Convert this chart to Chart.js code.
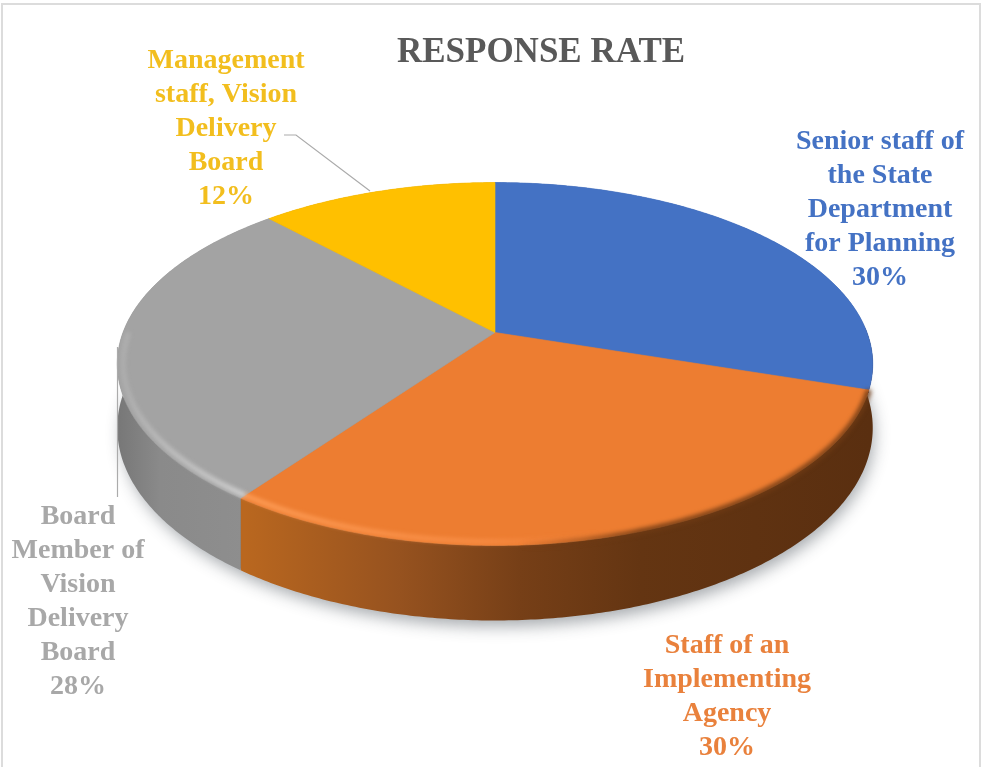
<!DOCTYPE html>
<html>
<head>
<meta charset="utf-8">
<title>Response Rate</title>
<script src="https://cdn.jsdelivr.net/npm/chart.js@4"></script>
<style>
  html, body { margin: 0; padding: 0; background: #fff; }
  #frame { position: absolute; left: 1px; top: 3px; width: 980px; height: 770px; border: 2px solid #dcdcdc; border-bottom: none; box-sizing: border-box; }
  #pie { position: absolute; left: 0; top: 0; }
  body { width: 985px; height: 767px; overflow: hidden; position: relative; }
</style>
</head>
<body>
<div id="frame"></div>
<canvas id="pie" width="985" height="767"></canvas>
<script>
// Survey figures
const chartTitle = 'RESPONSE RATE';
const categories = [
  'Senior staff of the State Department for Planning',
  'Staff of an Implementing Agency',
  'Board Member of Vision Delivery Board',
  'Management staff, Vision Delivery Board'
];
const responseShare = [30, 30, 28, 12];
const sliceColors = ['#4472C4', '#ED7D31', '#A3A3A3', '#FFC000'];

// Wrapped callout text for each slice
const calloutLines = [
  ['Senior staff of', 'the State', 'Department', 'for Planning'],
  ['Staff of an', 'Implementing', 'Agency'],
  ['Board', 'Member of', 'Vision', 'Delivery', 'Board'],
  ['Management', 'staff, Vision', 'Delivery', 'Board']
];
const calloutCenters = [[880, 142], [727, 646], [78, 517], [226, 61]];
const calloutColors = ['#4472C4', '#E9813C', '#A8A8A8', '#F2BE1E'];
const calloutLineStep = 34;

// Tilted-disc projection: near side of the disc is drawn larger
const DISC = { rx: 372, ry: 176, tilt: 0.1736, depth: 62 };

function project(cx, cy, angle, inset = 1, drop = 0) {
  const u = Math.cos(angle) * inset, v = Math.sin(angle) * inset;
  const w = 1 - DISC.tilt * v;
  return [cx + DISC.rx * u / w, cy + DISC.ry * v / w + drop * DISC.depth / w];
}

function traceRim(ctx, cx, cy, from, to, inset, drop, moveFirst) {
  const steps = Math.max(2, Math.ceil(Math.abs(to - from) / 0.01));
  for (let i = 0; i <= steps; i++) {
    const [x, y] = project(cx, cy, from + (to - from) * i / steps, inset, drop);
    if (i === 0 && moveFirst) ctx.moveTo(x, y); else ctx.lineTo(x, y);
  }
}

function sideGradient(ctx, index) {
  const stops = [
    [[840, '#2f5597'], [880, '#1f3a68']],
    [[245, '#B9671F'], [400, '#96521F'], [520, '#763F17'], [640, '#643512'], [870, '#5A2F10']],
    [[115, '#767676'], [160, '#8A8A8A'], [245, '#8E8E8E']],
    [[260, '#B88A00'], [500, '#B88A00']]
  ][index];
  const x0 = stops[0][0], x1 = stops[stops.length - 1][0];
  const g = ctx.createLinearGradient(x0, 0, x1, 0);
  stops.forEach(([x, c]) => g.addColorStop((x - x0) / (x1 - x0), c));
  return g;
}

const tiltedPie = {
  id: 'tiltedPie',
  afterLayout(chart) {
    // Title sits right of the page centre
    chart.titleBlock.left += 92;
  },
  beforeDatasetsDraw(chart) {
    const ctx = chart.ctx;
    const arcs = chart.getDatasetMeta(0).data;
    const cx = arcs[0].x, cy = arcs[0].y;

    // Soft contact shadow under the disc
    ctx.save();
    ctx.shadowColor = 'rgba(40,50,60,0.42)';
    ctx.shadowBlur = 16;
    ctx.shadowOffsetY = 7;
    ctx.shadowOffsetX = 3;
    ctx.fillStyle = '#777';
    ctx.beginPath();
    traceRim(ctx, cx, cy, 0, Math.PI * 2, 0.995, 1, true);
    ctx.closePath();
    ctx.fill();
    ctx.restore();

    // Side walls; the orange wall wraps a little past its slice so the
    // right-hand silhouette turns brown just below the blue slice's end
    const blueEndY = project(cx, cy, arcs[0].endAngle)[1];
    [1, 2, 3, 0].forEach((i) => {
      const arc = arcs[i];
      const lead = i === 1 ? 0.35 : 0;
      ctx.save();
      if (i === 0) {
        ctx.beginPath();
        ctx.rect(0, 0, chart.width, blueEndY + 3);
        ctx.clip();
      }
      ctx.beginPath();
      traceRim(ctx, cx, cy, arc.startAngle - lead, arc.endAngle, 1, 0, true);
      traceRim(ctx, cx, cy, arc.endAngle, arc.startAngle - lead, 1, 1, false);
      ctx.closePath();
      ctx.fillStyle = sideGradient(ctx, i);
      ctx.fill();
      ctx.restore();
    });

    // Top faces
    arcs.forEach((arc) => {
      ctx.beginPath();
      ctx.moveTo(cx, cy);
      traceRim(ctx, cx, cy, arc.startAngle, arc.endAngle, 1, 0, false);
      ctx.closePath();
      ctx.fillStyle = arc.options.backgroundColor;
      ctx.strokeStyle = arc.options.backgroundColor;
      ctx.lineWidth = 0.6;
      ctx.fill();
      ctx.stroke();
    });

    // Bevel along the front edge: lit on the left, shaded on the right
    const bevel = (arc, inset, width, stops, lastAngle) => {
      const g = ctx.createLinearGradient(stops[0][0], 0, stops[stops.length - 1][0], 0);
      const x0 = stops[0][0], x1 = stops[stops.length - 1][0];
      stops.forEach(([x, c]) => g.addColorStop((x - x0) / (x1 - x0), c));
      ctx.save();
      ctx.filter = 'blur(2px)';
      ctx.beginPath();
      traceRim(ctx, cx, cy, arc.startAngle, lastAngle, inset, 0, true);
      ctx.strokeStyle = g;
      ctx.lineWidth = width;
      ctx.stroke();
      ctx.restore();
    };
    bevel(arcs[1], 0.985, 5, [
      [245, 'rgba(255,160,90,0.9)'], [480, 'rgba(255,150,80,0.6)'], [600, 'rgba(255,140,70,0)']
    ], arcs[1].endAngle);
    bevel(arcs[1], 1.0, 6, [
      [520, 'rgba(110,58,20,0)'], [640, 'rgba(110,58,20,0.85)'], [860, 'rgba(110,58,20,0.85)']
    ], arcs[1].endAngle);
    bevel(arcs[2], 0.985, 5, [
      [118, 'rgba(205,205,205,0.25)'], [170, 'rgba(205,205,205,0.65)'], [245, 'rgba(215,215,215,0.9)']
    ], Math.PI);
    return false;
  },
  afterDraw(chart) {
    const ctx = chart.ctx;
    ctx.save();

    // Leader lines from the two outer callouts
    ctx.strokeStyle = '#ABABAB';
    ctx.lineWidth = 1.2;
    ctx.beginPath();
    ctx.moveTo(284, 135); ctx.lineTo(296, 135); ctx.lineTo(370, 191);
    ctx.moveTo(117.5, 347); ctx.lineTo(117.5, 497);
    ctx.stroke();

    // Callout text, with the share as the final line
    ctx.font = 'bold 28px "Liberation Serif", serif';
    ctx.textAlign = 'center';
    ctx.textBaseline = 'middle';
    calloutLines.forEach((lines, i) => {
      ctx.fillStyle = calloutColors[i];
      const [x, y] = calloutCenters[i];
      [...lines, responseShare[i] + '%'].forEach((line, n) => {
        ctx.fillText(line, x, y + n * calloutLineStep);
      });
    });
    ctx.restore();
  }
};

new Chart(document.getElementById('pie'), {
  type: 'pie',
  data: {
    labels: categories,
    datasets: [{ data: responseShare, backgroundColor: sliceColors, borderWidth: 0 }]
  },
  options: {
    responsive: false,
    animation: false,
    layout: { padding: { left: 5, right: 0, top: 0, bottom: 176 } },
    plugins: {
      legend: { display: false },
      tooltip: { enabled: false },
      title: {
        display: true,
        text: chartTitle,
        color: '#595959',
        font: { family: '"Liberation Serif", serif', size: 35, weight: 'bold' },
        padding: { top: 32, bottom: 0 }
      }
    }
  },
  plugins: [tiltedPie]
});
</script>
</body>
</html>
